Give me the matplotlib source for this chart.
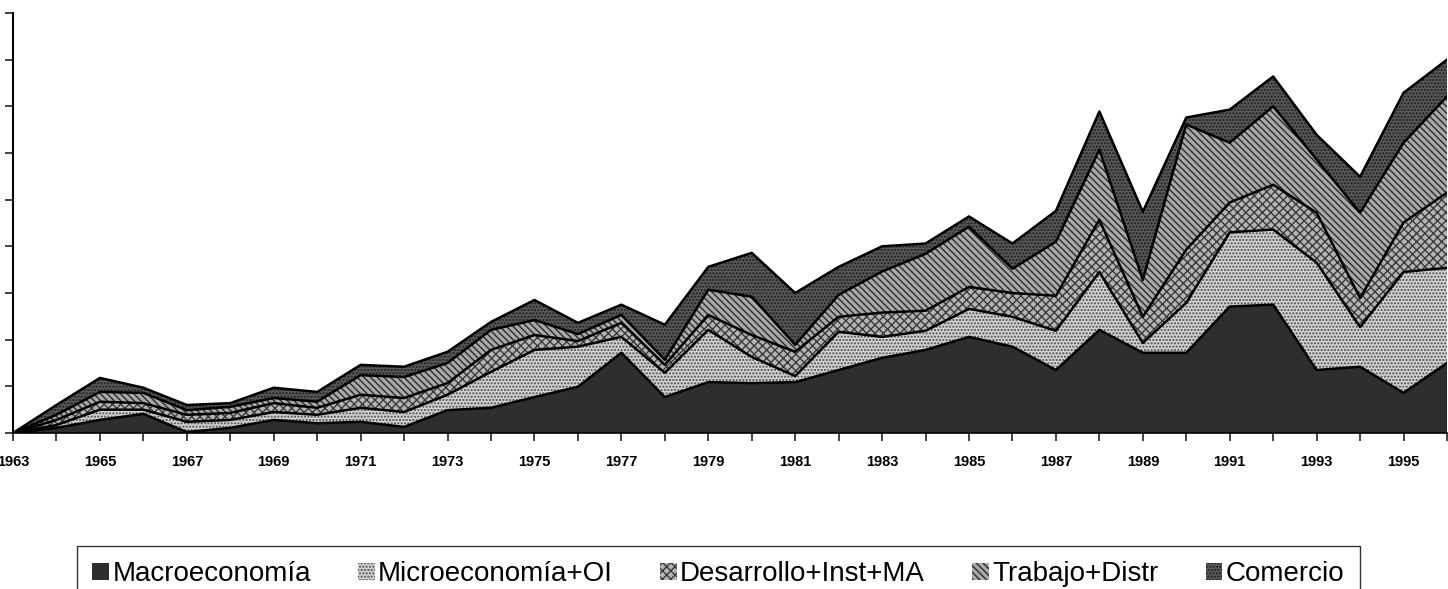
import matplotlib
matplotlib.use('Agg')
import matplotlib.pyplot as plt
import numpy as np
from matplotlib.patches import Patch

# Datos (capas apiladas)
years = list(range(1963, 1997))
macro = [0, 1.1, 2.8, 4.1, 0.2, 1.1, 2.8, 2.1, 2.4, 1.3, 4.9, 5.4, 7.7, 9.9, 17.2, 7.7, 10.9,
         10.7, 10.9, 13.5, 16.1, 17.8, 20.6, 18.5, 13.5, 22.1, 17.2, 17.2, 27.1, 27.5, 13.5, 14.2, 8.6, 15.0]
micro = [0, 0.6, 2.2, 0.9, 2.2, 1.7, 1.7, 1.8, 3.0, 3.2, 3.3, 7.7, 10.1, 8.6, 3.4, 5.2, 11.2,
         5.6, 1.3, 8.2, 4.5, 4.1, 6.0, 6.4, 8.4, 12.4, 2.1, 10.7, 15.9, 16.1, 23.0, 8.5, 25.9, 20.4]
desarrollo = [0, 1.1, 1.7, 1.4, 1.5, 1.5, 1.9, 1.5, 2.8, 3.0, 2.5, 4.7, 3.2, 1.2, 3.0, 1.7, 3.2,
              4.7, 5.2, 3.2, 5.2, 4.3, 4.7, 5.1, 7.5, 11.2, 5.6, 11.4, 6.4, 9.6, 10.7, 6.2, 10.6, 16.1]
trabajo = [0, 1.1, 2.1, 2.2, 1.0, 1.3, 1.1, 1.3, 4.2, 4.5, 4.3, 4.3, 3.2, 1.5, 1.7, 1.1, 5.4,
           8.2, 1.5, 4.7, 8.8, 12.2, 12.9, 5.2, 11.6, 15.0, 7.9, 26.8, 12.8, 16.8, 11.4, 18.3, 17.1, 20.6]
comercio = [0, 2.1, 3.0, 1.1, 1.1, 0.8, 2.2, 2.1, 2.2, 2.2, 2.4, 1.7, 4.3, 2.4, 2.2, 7.5, 4.9,
            9.4, 11.1, 6.0, 5.4, 2.2, 2.2, 5.4, 6.6, 8.2, 14.6, 1.5, 7.1, 6.4, 5.3, 7.7, 10.7, 7.9]
labels = ['Macroeconomía', 'Microeconomía+OI', 'Desarrollo+Inst+MA', 'Trabajo+Distr', 'Comercio']
tick_years = list(range(1963, 1996, 2))

series = [macro, micro, desarrollo, trabajo, comercio]
faces = ['#2e2e2e', '#d2d2d2', '#b4b4b4', '#a9a9a9', '#585858']
hatch_cols = ['#1a1a1a', '#4a4a4a', '#3a3a3a', '#2a2a2a', '#1e1e1e']
hatches = ['', '.....', 'xxxx', '\\\\\\\\\\', '.....']

plt.rcParams['font.family'] = ['Liberation Sans', 'DejaVu Sans']
plt.rcParams['hatch.linewidth'] = 1.0

fig = plt.figure(figsize=(14.48, 5.89), dpi=100)
ax = fig.add_axes([13 / 1448, 156 / 589, 1434 / 1448, 420 / 589])

x = np.array(years)
base = np.zeros(len(years))
for vals, fc, hc, h in zip(series, faces, hatch_cols, hatches):
    top = base + np.array(vals)
    ax.fill_between(x, base, top, facecolor=fc, edgecolor=hc, hatch=h, linewidth=0)
    ax.plot(x, top, color='black', lw=1.8)
    base = top

ax.set_xlim(1963, 1996)
ax.set_ylim(0, 90)
ax.set_yticks(np.arange(0, 91, 10))
ax.set_yticklabels([])
ax.set_xticks(years, minor=True)
ax.set_xticks(tick_years)
ax.set_xticklabels([str(y) for y in tick_years], fontsize=10.5, fontweight='bold')
ax.tick_params(axis='both', which='both', direction='out', length=6, width=1.2, color='#222')
ax.tick_params(axis='x', which='major', pad=10)
for s in ['top', 'right']:
    ax.spines[s].set_visible(False)
ax.spines['left'].set_linewidth(1.5)
ax.spines['bottom'].set_linewidth(1.2)

handles = [Patch(facecolor=fc, edgecolor=hc, hatch=h, linewidth=0)
           for fc, hc, h in zip(faces, hatch_cols, hatches)]
leg = fig.legend(handles, labels, ncol=5, loc='upper left',
                 bbox_to_anchor=(77 / 1448, 1 - 546 / 589),
                 fontsize=20, frameon=True, fancybox=False, edgecolor='black',
                 handlelength=0.6, handleheight=0.6, handletextpad=0.12,
                 columnspacing=1.7, borderpad=0.55, borderaxespad=0)
leg.get_frame().set_linewidth(1.0)

fig.savefig('out.png', dpi=100)
